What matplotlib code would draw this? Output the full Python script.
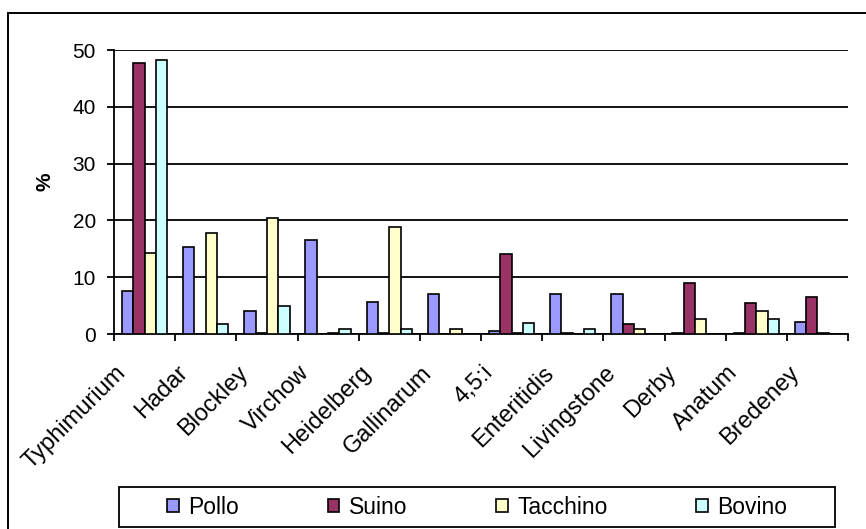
import matplotlib
matplotlib.use('Agg')
import matplotlib.pyplot as plt
import matplotlib.transforms as mtransforms
from matplotlib.patches import Rectangle
import numpy as np

plt.rcParams['font.family'] = ['Liberation Sans', 'DejaVu Sans']

# Sierotipi di Salmonella per specie animale (%)
sierotipi = ['Typhimurium', 'Hadar', 'Blockley', 'Virchow', 'Heidelberg', 'Gallinarum',
             '4,5:i', 'Enteritidis', 'Livingstone', 'Derby', 'Anatum', 'Bredeney']
pollo = [7.5, 15.3, 4.0, 16.5, 5.6, 7.1, 0.6, 7.1, 7.1, 0.2, 0.2, 2.1]
suino = [47.7, 0.0, 0.2, 0.0, 0.2, 0.0, 14.0, 0.2, 1.8, 9.0, 5.5, 6.5]
tacchino = [14.3, 17.8, 20.4, 0.2, 18.8, 0.9, 0.2, 0.0, 0.9, 2.7, 4.0, 0.2]
bovino = [48.3, 1.8, 5.0, 0.9, 0.9, 0.0, 1.9, 0.9, 0.0, 0.0, 2.7, 0.0]
specie = ['Pollo', 'Suino', 'Tacchino', 'Bovino']
colori = ['#9999FF', '#993366', '#FFFFCC', '#CCFFFF']

W, H, DPI = 866, 529, 100
fig = plt.figure(figsize=(W / DPI, H / DPI), dpi=DPI)

# cornice esterna del grafico (lato destro e inferiore fuori dal foglio)
fig.patches.append(Rectangle((8 / W, -0.1), 1.2, 1 - 12.7 / H + 0.1,
                             transform=fig.transFigure, fill=False,
                             edgecolor='black', linewidth=1.4))

ax = fig.add_axes([114 / W, 1 - 334 / H, (848 - 114) / W, (334 - 50) / H])

x = np.arange(len(sierotipi))
bw = 0.185
serie = [pollo, suino, tacchino, bovino]
for i, (vals, nome, col) in enumerate(zip(serie, specie, colori)):
    ax.bar(x + (i - 1.5) * bw, vals, width=bw, color=col, edgecolor='black',
           linewidth=1.2, label=nome, zorder=3)

ax.set_xlim(-0.5, len(sierotipi) - 0.5)
ax.set_ylim(0, 50)
ax.set_yticks([0, 10, 20, 30, 40, 50])
ax.yaxis.grid(True, color='black', linewidth=1.3, zorder=0)
ax.set_axisbelow(True)

for s in ['top', 'right']:
    ax.spines[s].set_visible(False)
ax.spines['left'].set_linewidth(1.3)
ax.spines['bottom'].set_linewidth(1.3)

# tacche sui bordi delle categorie, etichette al centro
ax.set_xticks(np.arange(len(sierotipi) + 1) - 0.5)
ax.set_xticklabels([])
ax.set_xticks(x, minor=True)
ax.set_xticklabels(sierotipi, minor=True, rotation=45, ha='right', va='top', fontsize=17)
ax.tick_params(axis='x', which='major', length=5, width=1.3, direction='out')
ax.tick_params(axis='x', which='minor', length=0, pad=20)
ax.tick_params(axis='y', length=5, width=1.3, direction='out', pad=8, labelsize=15)

shift = mtransforms.ScaledTranslation(-14 / DPI, 0, fig.dpi_scale_trans)
for lab in ax.get_xticklabels(minor=True):
    lab.set_transform(lab.get_transform() + shift)

ax.set_ylabel('%', fontsize=15, fontweight='bold', rotation=90)
ax.yaxis.set_label_coords((55 - 114) / (848 - 114), (334 - 182) / (334 - 50))

# legenda orizzontale con riquadro
fig.patches.append(Rectangle((119 / W, 1 - 527 / H), (835 - 119) / W, 40 / H,
                             transform=fig.transFigure, fill=False,
                             edgecolor='black', linewidth=1.3))
fig.legend(loc='center left', bbox_to_anchor=(167 / W, 1 - 507 / H), ncol=4,
           fontsize=16.5, frameon=False,
           handlelength=0.52, handleheight=0.52, handletextpad=0.42,
           columnspacing=3.85, borderpad=0, borderaxespad=0)

fig.savefig('out.png', dpi=DPI)
